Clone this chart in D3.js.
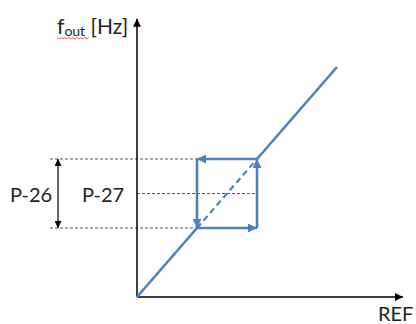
<!DOCTYPE html>
<html>
<head>
<meta charset="utf-8">
<script src="https://cdn.jsdelivr.net/npm/d3@7"></script>
<style>
  body { margin: 0; background: #fff; }
  text { font-family: Lato, "Open Sans", sans-serif; fill: #222; }
</style>
</head>
<body>
<div id="wrapper"></div>
<script>
// characteristic f_out vs REF, with hysteresis window P-26 around P-27
const linePoints = [[0, 0], [3, 3], [6, 6], [10, 10]]
const hystLow = 3
const hystHigh = 6
const hystMid = 4.5
const axisMax = { x: 13.3, y: 12.1 }
const refLeft = -4.35
const labels = { y: "f", ySub: "out", yUnit: " [Hz]", x: "REF", band: "P-26", mid: "P-27" }

function drawChart() {
  const dimensions = { width: 416, height: 324 }

  const svg = d3.select("#wrapper")
    .append("svg")
      .attr("width", dimensions.width)
      .attr("height", dimensions.height)

  const xScale = d3.scaleLinear()
    .domain([0, 10])
    .range([137, 337])

  const yScale = d3.scaleLinear()
    .domain([0, 10])
    .range([297, 67])

  const blue = "#4f7fbf"

  const defs = svg.append("defs")
  const marker = (id, color, w, h) => defs.append("marker")
      .attr("id", id)
      .attr("viewBox", "0 0 10 10")
      .attr("refX", 10)
      .attr("refY", 5)
      .attr("markerWidth", w)
      .attr("markerHeight", h)
      .attr("markerUnits", "userSpaceOnUse")
      .attr("orient", "auto-start-reverse")
    .append("path")
      .attr("d", "M0,0 L10,5 L0,10 Z")
      .attr("fill", color)
  marker("axisArrow", "#000", 9, 8)
  marker("blueArrow", blue, 10, 9)
  marker("bandArrow", "#000", 8, 7)

  // grey reference lines
  const refLines = [
    { y: hystHigh, x0: refLeft, x1: hystLow },
    { y: hystMid, x0: 0, x1: hystHigh },
    { y: hystLow, x0: refLeft, x1: hystLow }
  ]
  svg.selectAll(".ref")
    .data(refLines)
    .join("line")
      .attr("class", "ref")
      .attr("x1", d => xScale(d.x0))
      .attr("x2", d => xScale(d.x1))
      .attr("y1", d => yScale(d.y))
      .attr("y2", d => yScale(d.y))
      .attr("stroke", "#555")
      .attr("stroke-width", 1)
      .attr("stroke-dasharray", "3,2")

  // axes
  svg.append("line")
      .attr("x1", xScale(0)).attr("y1", yScale(0))
      .attr("x2", xScale(0)).attr("y2", yScale(axisMax.y))
      .attr("stroke", "#000").attr("stroke-width", 1.5)
      .attr("marker-end", "url(#axisArrow)")
  svg.append("line")
      .attr("x1", xScale(0)).attr("y1", yScale(0))
      .attr("x2", xScale(axisMax.x)).attr("y2", yScale(0))
      .attr("stroke", "#000").attr("stroke-width", 1.5)
      .attr("marker-end", "url(#axisArrow)")

  const line = d3.line()
    .x(d => xScale(d[0]))
    .y(d => yScale(d[1]))

  // solid parts of the characteristic
  svg.append("path")
      .attr("d", line(linePoints.slice(0, 2)))
      .attr("fill", "none").attr("stroke", blue).attr("stroke-width", 2.6)
  svg.append("path")
      .attr("d", line(linePoints.slice(2)))
      .attr("fill", "none").attr("stroke", blue).attr("stroke-width", 2.6)
  // dashed inside the window
  svg.append("path")
      .attr("d", line(linePoints.slice(1, 3)))
      .attr("fill", "none").attr("stroke", blue).attr("stroke-width", 2.2)
      .attr("stroke-dasharray", "6,4")

  // hysteresis loop edges
  const loop = [
    [[hystHigh, hystHigh], [hystLow, hystHigh]],
    [[hystLow, hystHigh], [hystLow, hystLow]],
    [[hystLow, hystLow], [hystHigh, hystLow]],
    [[hystHigh, hystLow], [hystHigh, hystHigh]]
  ]
  svg.selectAll(".loop")
    .data(loop)
    .join("path")
      .attr("class", "loop")
      .attr("d", d => line(d))
      .attr("fill", "none")
      .attr("stroke", blue)
      .attr("stroke-width", 2.6)
      .attr("marker-end", "url(#blueArrow)")

  // P-26 double arrow
  svg.append("line")
      .attr("x1", 58).attr("x2", 58)
      .attr("y1", yScale(hystHigh)).attr("y2", yScale(hystLow))
      .attr("stroke", "#000").attr("stroke-width", 1.2)
      .attr("marker-start", "url(#bandArrow)")
      .attr("marker-end", "url(#bandArrow)")

  svg.append("text")
      .attr("x", 10).attr("y", yScale(hystMid) + 8)
      .attr("font-size", 20)
      .text(labels.band)
  svg.append("text")
      .attr("x", 82).attr("y", yScale(hystMid) + 8)
      .attr("font-size", 20)
      .text(labels.mid)

  // axis titles
  const yTitle = svg.append("text")
      .attr("x", 57).attr("y", 34)
      .attr("font-size", 21)
  yTitle.append("tspan").text(labels.y)
  yTitle.append("tspan").attr("font-size", 14).attr("dy", 2).text(labels.ySub)
  yTitle.append("tspan").attr("dy", -2).text(labels.yUnit)

  // spell-check squiggle under f_out
  const squiggle = d3.range(57, 90, 2).map((x, i) => [x, 38 + (i % 2 ? 1 : -0.5)])
  svg.append("path")
      .attr("d", d3.line()(squiggle))
      .attr("fill", "none").attr("stroke", "#d33").attr("stroke-width", 0.8)

  svg.append("text")
      .attr("x", 378).attr("y", 321)
      .attr("font-size", 20)
      .text(labels.x)
}

drawChart()
</script>
</body>
</html>
